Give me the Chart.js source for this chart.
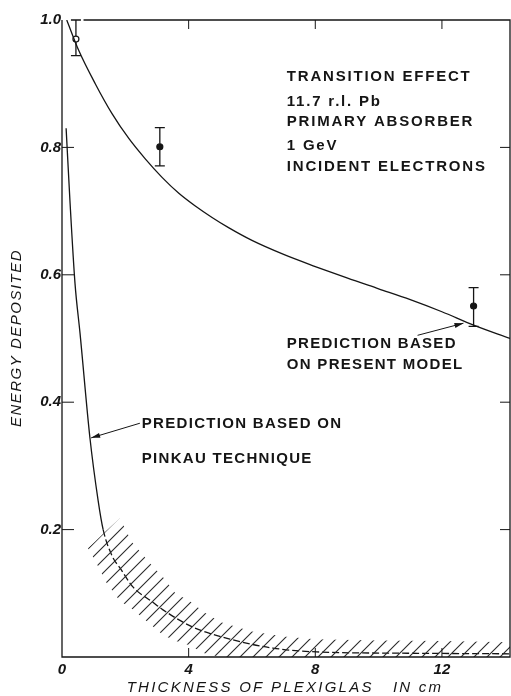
<!DOCTYPE html>
<html>
<head>
<meta charset="utf-8">
<script src="https://cdn.jsdelivr.net/npm/chart.js@4.4.0/dist/chart.umd.min.js"></script>
<style>
    html, body { margin: 0; padding: 0; background: #fff; }
    #wrap { width: 511px; height: 696px; }
</style>
</head>
<body>
<div id="wrap"><canvas id="myChart"></canvas></div>
<script>
// values: x = thickness of plexiglas (cm), y = energy deposited

// prediction based on present model
let modelX = [0.15, 0.53, 1.05, 1.58, 2.11, 2.63, 3.16, 3.69, 4.21, 4.74, 5.26, 6.0, 7.0, 8.0, 9.0, 10.0, 11.0, 12.0, 13.0, 14.15];
let modelY = [1.0, 0.952, 0.900, 0.853, 0.814, 0.782, 0.753, 0.728, 0.708, 0.690, 0.674, 0.654, 0.632, 0.613, 0.595, 0.578, 0.561, 0.542, 0.521, 0.500];

// prediction based on Pinkau technique (dashed beyond pinkauDashFrom)
let pinkauX = [0.13, 0.25, 0.41, 0.57, 0.88, 1.14, 1.3, 1.6, 1.83, 2.24, 2.87, 3.19, 4.13, 5.39, 6.66, 8.04, 10.7, 14.15];
let pinkauY = [0.83, 0.717, 0.587, 0.508, 0.345, 0.246, 0.2, 0.157, 0.14, 0.11, 0.086, 0.074, 0.047, 0.027, 0.014, 0.008, 0.006, 0.005];
let pinkauDashFrom = 1.3;

// hatched uncertainty band round the Pinkau curve
let bandX    = [0.82, 1.04, 1.4, 1.83, 2.2, 2.8, 3.2, 3.6, 4.0, 4.5, 5.0, 6.0, 7.0, 8.0, 10.0, 12.0, 14.15];
let bandHigh = [0.171, 0.181, 0.198, 0.218, 0.181, 0.146, 0.125, 0.099, 0.089, 0.07, 0.055, 0.04, 0.032, 0.028, 0.026, 0.025, 0.023];
let bandLow  = [0.171, 0.152, 0.117, 0.088, 0.076, 0.051, 0.034, 0.025, 0.019, 0.006, 0, 0, 0, 0, 0, 0, 0];

// measured points with error bars
let expX  = [0.44, 3.09, 13.0];
let expY  = [0.970, 0.801, 0.551];
let expLo = [0.944, 0.771, 0.519];
let expHi = [1.0, 0.831, 0.58];
let expOpen = [true, false, false];

// axes
let xMax = 14.15;
let xTicks = [0, 4, 8, 12];
let xTickLabels = ['0', '4', '8', '12'];
let yTicks = [0.2, 0.4, 0.6, 0.8, 1.0];
let yTickLabels = ['0.2', '0.4', '0.6', '0.8', '1.0'];
let xTitle = 'THICKNESS OF PLEXIGLAS   IN cm';
let yTitle = 'ENERGY DEPOSITED';

// text on the plot, placed in data units
let infoLines = ['TRANSITION EFFECT', '11.7 r.l. Pb', 'PRIMARY ABSORBER', '1 GeV', 'INCIDENT ELECTRONS'];
let infoY = [0.910, 0.871, 0.840, 0.803, 0.769];
let infoX = 7.1;
let modelNote = ['PREDICTION BASED', 'ON PRESENT MODEL'];
let modelNoteY = [0.491, 0.458];
let pinkauNote = ['PREDICTION BASED ON', 'PINKAU TECHNIQUE'];
let pinkauNoteY = [0.3666, 0.3113];
let noteX = [7.1, 2.52];
// arrows: [tailX, tailY, headX, headY]
let arrows = [[11.23, 0.505, 12.68, 0.524], [2.46, 0.367, 0.92, 0.344]];

const INK = '#151515';
const FONT = '"Liberation Sans", Arial, sans-serif';

function pts(xs, ys) {
    return xs.map((x, i) => ({ x: x, y: ys[i] }));
}

// diagonal hatching
function hatchPattern() {
    let s = 13;
    let c = document.createElement('canvas');
    c.width = s; c.height = s;
    let g = c.getContext('2d');
    g.strokeStyle = '#2a2a2a';
    g.lineWidth = 1.1;
    g.beginPath();
    g.moveTo(0, s); g.lineTo(s, 0);
    g.moveTo(-2, 2); g.lineTo(2, -2);
    g.moveTo(s - 2, s + 2); g.lineTo(s + 2, s - 2);
    g.stroke();
    return g.createPattern(c, 'repeat');
}

function spacedText(ctx, str, x, y, spacing) {
    ctx.letterSpacing = spacing + 'px';
    ctx.fillText(str, x, y);
    ctx.letterSpacing = '0px';
}

const decor = {
    id: 'decor',
    afterDatasetsDraw(chart) {
        let ctx = chart.ctx;
        let xs = chart.scales.x, ys = chart.scales.y;
        let a = chart.chartArea;
        ctx.save();
        ctx.strokeStyle = INK;
        ctx.fillStyle = INK;
        ctx.lineWidth = 1.3;

        // frame
        ctx.beginPath();
        ctx.moveTo(xs.getPixelForValue(0.68), a.top);
        ctx.lineTo(a.right, a.top);
        ctx.lineTo(a.right, a.bottom);
        ctx.lineTo(a.left, a.bottom);
        ctx.lineTo(a.left, a.top);
        ctx.stroke();

        // inward tick marks
        ctx.lineWidth = 1;
        ctx.beginPath();
        yTicks.forEach(v => {
            if (v >= 1) return;
            let py = ys.getPixelForValue(v);
            ctx.moveTo(a.left, py); ctx.lineTo(a.left + 12, py);
            ctx.moveTo(a.right - 10, py); ctx.lineTo(a.right, py);
        });
        xTicks.forEach(v => {
            if (v <= 0) return;
            let px = xs.getPixelForValue(v);
            ctx.moveTo(px, a.bottom); ctx.lineTo(px, a.bottom - 9);
            ctx.moveTo(px, a.top); ctx.lineTo(px, a.top + 9);
        });
        ctx.stroke();

        // error bars
        ctx.lineWidth = 1.3;
        expX.forEach((x, i) => {
            let px = xs.getPixelForValue(x);
            let lo = ys.getPixelForValue(expLo[i]);
            let hi = ys.getPixelForValue(expHi[i]);
            let py = ys.getPixelForValue(expY[i]);
            ctx.beginPath();
            ctx.moveTo(px, hi); ctx.lineTo(px, py - 3);
            ctx.moveTo(px, py + 3); ctx.lineTo(px, lo);
            ctx.moveTo(px - 5, hi); ctx.lineTo(px + 5, hi);
            ctx.moveTo(px - 5, lo); ctx.lineTo(px + 5, lo);
            ctx.stroke();
        });

        // arrows
        ctx.lineWidth = 1;
        arrows.forEach(ar => {
            let x0 = xs.getPixelForValue(ar[0]), y0 = ys.getPixelForValue(ar[1]);
            let x1 = xs.getPixelForValue(ar[2]), y1 = ys.getPixelForValue(ar[3]);
            let ang = Math.atan2(y1 - y0, x1 - x0);
            ctx.beginPath();
            ctx.moveTo(x0, y0); ctx.lineTo(x1, y1);
            ctx.stroke();
            ctx.beginPath();
            ctx.moveTo(x1, y1);
            ctx.lineTo(x1 - 9 * Math.cos(ang) + 2.5 * Math.sin(ang), y1 - 9 * Math.sin(ang) - 2.5 * Math.cos(ang));
            ctx.lineTo(x1 - 9 * Math.cos(ang) - 2.5 * Math.sin(ang), y1 - 9 * Math.sin(ang) + 2.5 * Math.cos(ang));
            ctx.closePath();
            ctx.fill();
        });

        // notes
        ctx.textBaseline = 'middle';
        ctx.textAlign = 'left';
        ctx.font = 'bold 15px ' + FONT;
        infoLines.forEach((t, i) => {
            spacedText(ctx, t, xs.getPixelForValue(infoX), ys.getPixelForValue(infoY[i]), 1.8);
        });
        modelNote.forEach((t, i) => {
            spacedText(ctx, t, xs.getPixelForValue(noteX[0]), ys.getPixelForValue(modelNoteY[i]), 1.3);
        });
        pinkauNote.forEach((t, i) => {
            spacedText(ctx, t, xs.getPixelForValue(noteX[1]), ys.getPixelForValue(pinkauNoteY[i]), 1.3);
        });

        // axis titles
        ctx.font = 'italic 15px ' + FONT;
        ctx.textAlign = 'center';
        spacedText(ctx, xTitle, 285, 688, 2.25);
        ctx.translate(17, 338);
        ctx.rotate(-Math.PI / 2);
        spacedText(ctx, yTitle, 0, 0, 1.5);
        ctx.restore();
    }
};

let ctx = document.getElementById('myChart').getContext('2d');

let chart = new Chart(ctx, {
    type: 'line',
    data: {
        datasets: [
            {
                data: pts(bandX, bandLow),
                borderWidth: 0, pointRadius: 0, fill: false, tension: 0
            },
            {
                data: pts(bandX, bandHigh),
                borderWidth: 0, pointRadius: 0, tension: 0,
                fill: '-1',
                backgroundColor: hatchPattern()
            },
            {
                data: pts(pinkauX, pinkauY),
                borderColor: INK, borderWidth: 1.3, pointRadius: 0,
                cubicInterpolationMode: 'monotone', fill: false,
                segment: {
                    borderDash: c => c.p0.parsed.x >= pinkauDashFrom ? [7, 3] : undefined
                }
            },
            {
                data: pts(modelX, modelY),
                borderColor: INK, borderWidth: 1.3, pointRadius: 0,
                cubicInterpolationMode: 'monotone', fill: false
            },
            {
                type: 'scatter',
                data: pts(expX, expY),
                pointRadius: 3,
                pointHoverRadius: 3,
                pointBorderWidth: 1.2,
                pointBorderColor: INK,
                pointBackgroundColor: expOpen.map(o => o ? '#fff' : INK),
                showLine: false
            }
        ]
    },
    options: {
        responsive: true,
        maintainAspectRatio: false,
        animation: false,
        layout: { autoPadding: false, padding: { left: 0, right: 1, top: 20, bottom: 0 } },
        plugins: { legend: { display: false }, tooltip: { enabled: false } },
        scales: {
            x: {
                type: 'linear', min: 0, max: xMax,
                grid: { display: false, drawTicks: false },
                border: { display: false },
                afterBuildTicks: s => { s.ticks = xTicks.map(v => ({ value: v })); },
                afterFit: s => { s.height = 39; s.paddingLeft = 0; s.paddingRight = 0; },
                ticks: {
                    color: INK, padding: 4, maxRotation: 0,
                    font: { family: FONT, size: 15, style: 'italic', weight: 'bold' },
                    callback: v => xTickLabels[xTicks.indexOf(v)]
                }
            },
            y: {
                type: 'linear', min: 0, max: 1,
                grid: { display: false, drawTicks: false },
                border: { display: false },
                afterBuildTicks: s => { s.ticks = yTicks.map(v => ({ value: v })); },
                afterFit: s => { s.width = 62; s.paddingTop = 0; s.paddingBottom = 0; },
                ticks: {
                    color: INK, padding: 1,
                    font: { family: FONT, size: 15, style: 'italic', weight: 'bold' },
                    callback: v => yTickLabels[yTicks.indexOf(v)]
                }
            }
        }
    },
    plugins: [decor]
});
</script>
</body>
</html>
